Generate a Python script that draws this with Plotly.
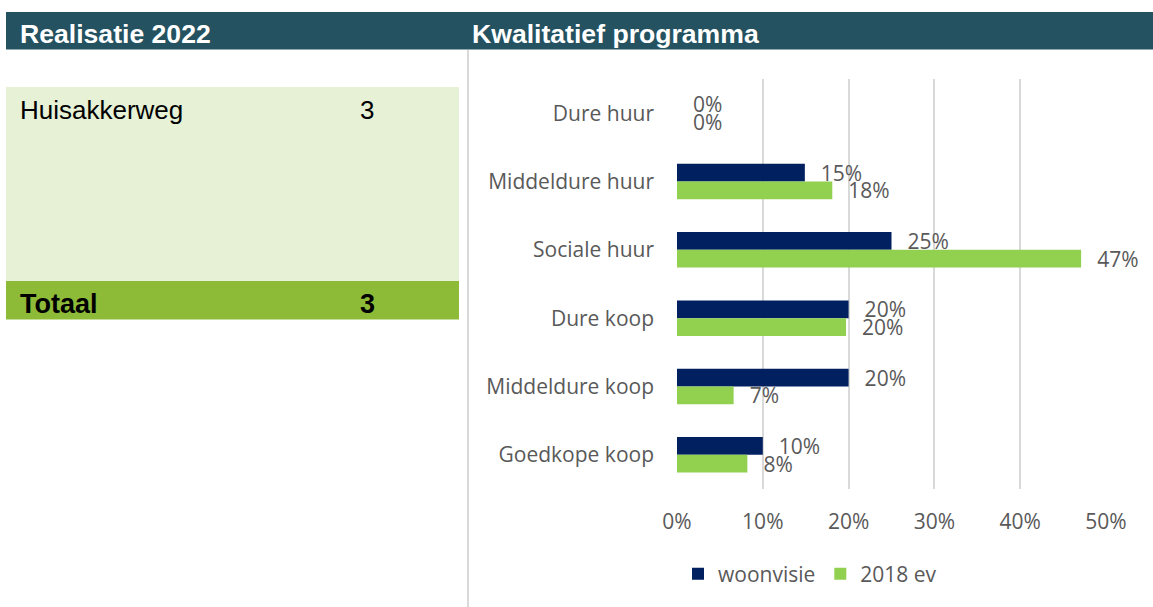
import plotly.graph_objects as go

# ---- data ----
categories = ["Dure huur", "Middeldure huur", "Sociale huur", "Dure koop", "Middeldure koop", "Goedkope koop"]
woonvisie = [0.0, 0.149, 0.25, 0.20, 0.20, 0.10]
ev_2018 = [0.0, 0.181, 0.471, 0.197, 0.066, 0.082]
series_names = ["woonvisie", "2018 ev"]
x_ticks = [0, 0.1, 0.2, 0.3, 0.4, 0.5]
x_tick_labels = ["0%", "10%", "20%", "30%", "40%", "50%"]

realisatie_projects = ["Huisakkerweg"]
realisatie_counts = [3]
total_label = "Totaal"
left_title = "Realisatie 2022"
right_title = "Kwalitatief programma"

# ---- style ----
W, H = 1153, 607
NAVY = "#002060"
GREEN = "#92D050"
HEADER = "#245261"
LIGHT = "#E6F1D6"
TOTAL = "#8DBB38"
GRAY_TXT = "#595959"
GRID = "#D9D9D9"
FONT = "Open Sans"


def fx(px):
    return px / W


def fy(py):
    return 1 - py / H


fig = go.Figure()
for name, vals, col in [(series_names[0], woonvisie, NAVY), (series_names[1], ev_2018, GREEN)]:
    fig.add_trace(go.Bar(
        name=name, y=categories, x=vals, orientation="h",
        marker=dict(color=col, line=dict(width=0)),
        texttemplate="\u00a0\u00a0\u200a%{x:.0%}", textposition="outside",
        textfont=dict(family=FONT, size=21, color=GRAY_TXT),
        constraintext="none", cliponaxis=False, hoverinfo="skip",
    ))

shapes = [
    dict(type="rect", xref="paper", yref="paper", x0=fx(6), x1=fx(1153), y0=fy(49.5), y1=fy(12),
         fillcolor=HEADER, line=dict(width=0), layer="below"),
    dict(type="rect", xref="paper", yref="paper", x0=fx(6), x1=fx(459), y0=fy(281), y1=fy(87),
         fillcolor=LIGHT, line=dict(width=0), layer="below"),
    dict(type="rect", xref="paper", yref="paper", x0=fx(6), x1=fx(459), y0=fy(319.5), y1=fy(281),
         fillcolor=TOTAL, line=dict(width=0), layer="below"),
    dict(type="line", xref="paper", yref="paper", x0=fx(468), x1=fx(468), y0=0, y1=fy(50),
         line=dict(color=GRID, width=2), layer="below"),
]

annotations = [
    dict(text=f"<b>{left_title}</b>", x=fx(18), y=fy(34), xref="paper", yref="paper",
         xanchor="left", yanchor="middle", showarrow=False,
         font=dict(family="Liberation Sans", size=26.6, color="white")),
    dict(text=f"<b>{right_title}</b>", x=fx(470), y=fy(34), xref="paper", yref="paper",
         xanchor="left", yanchor="middle", showarrow=False,
         font=dict(family="Liberation Sans", size=26.6, color="white")),
]
for i, (p, c) in enumerate(zip(realisatie_projects, realisatie_counts)):
    yy = fy(110 + i * 40)
    annotations.append(dict(text=p, x=fx(18), y=yy, xref="paper", yref="paper", xanchor="left",
                            yanchor="middle", showarrow=False,
                            font=dict(family="Liberation Sans", size=26, color="black")))
    annotations.append(dict(text=str(c), x=fx(358), y=yy, xref="paper", yref="paper", xanchor="left",
                            yanchor="middle", showarrow=False,
                            font=dict(family="Liberation Sans", size=26, color="black")))
annotations.append(dict(text=f"<b>{total_label}</b>", x=fx(18), y=fy(304), xref="paper", yref="paper",
                        xanchor="left", yanchor="middle", showarrow=False,
                        font=dict(family="Liberation Sans", size=27, color="black")))
annotations.append(dict(text=f"<b>{sum(realisatie_counts)}</b>", x=fx(358), y=fy(304), xref="paper",
                        yref="paper", xanchor="left", yanchor="middle", showarrow=False,
                        font=dict(family="Liberation Sans", size=27, color="black")))

fig.update_layout(
    width=W, height=H,
    margin=dict(l=0, r=0, t=0, b=0, pad=0, autoexpand=False),
    paper_bgcolor="white", plot_bgcolor="white",
    barmode="group", bargap=0.48, bargroupgap=0,
    font=dict(family=FONT, size=21, color=GRAY_TXT),
    xaxis=dict(domain=[fx(677), fx(1106)], range=[0, 0.5], tickvals=x_ticks, ticktext=x_tick_labels,
               showgrid=True, gridcolor=GRID, gridwidth=1.5, zeroline=False, showline=False,
               automargin=False, ticks="", ticklabelstandoff=18,
               tickfont=dict(family=FONT, size=21, color=GRAY_TXT)),
    yaxis=dict(domain=[fy(489), fy(79)], autorange="reversed", showgrid=False, zeroline=False,
               showline=False, automargin=False, ticks="", ticklabelstandoff=22,
               tickfont=dict(family=FONT, size=21, color=GRAY_TXT)),
    legend=dict(orientation="h", x=fx(810), y=fy(574), xanchor="center", yanchor="middle",
                font=dict(family=FONT, size=21, color=GRAY_TXT), itemclick=False,
                bgcolor="rgba(0,0,0,0)", traceorder="normal"),
    shapes=shapes, annotations=annotations,
    showlegend=True,
)

fig.write_html("out.html", config={"displayModeBar": False},
               post_script="document.body.style.margin='0';document.body.style.overflow='hidden';")
